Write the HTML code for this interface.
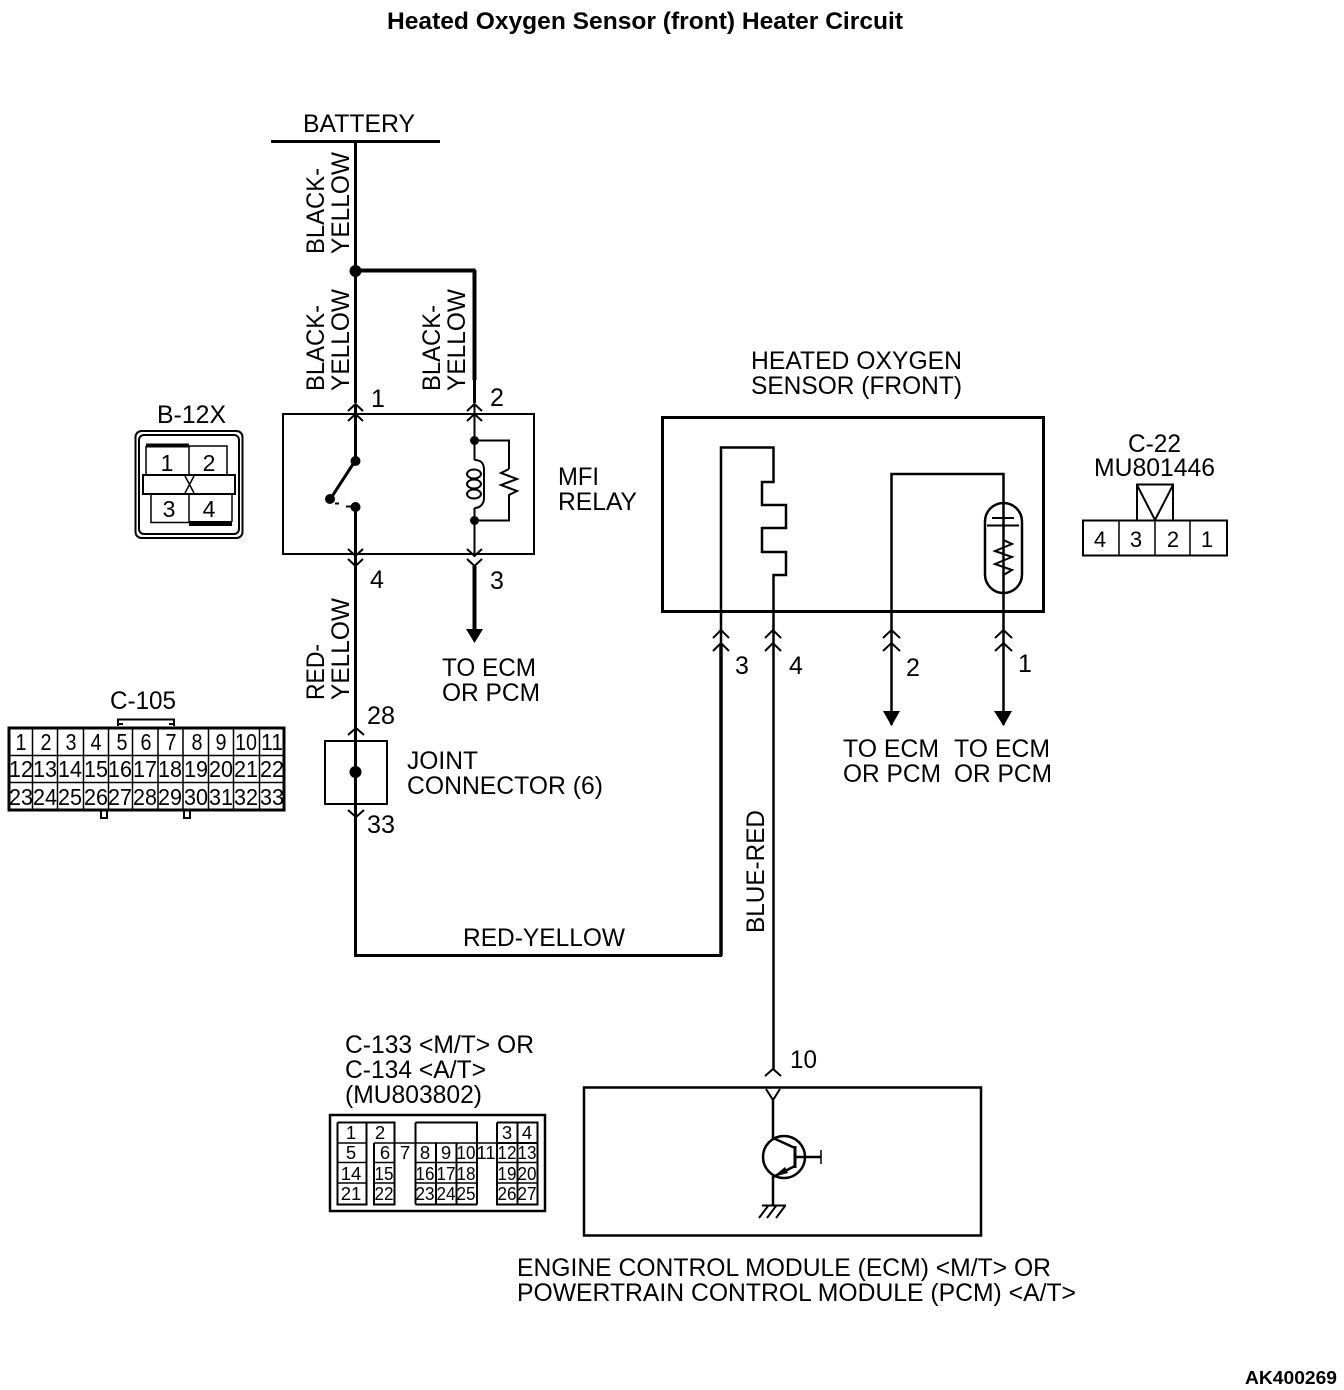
<!DOCTYPE html>
<html><head><meta charset="utf-8">
<style>
html,body{margin:0;padding:0;background:#fff}
svg{display:block}
text{font-family:"Liberation Sans",sans-serif;font-size:25px;fill:#000;stroke:none}
.b{font-weight:bold}
.s{font-size:22px;text-anchor:middle}
.c{font-size:23px;text-anchor:middle}
.d{font-size:18.500px;text-anchor:middle}
.w{stroke:#000;fill:none;stroke-width:3;stroke-linecap:butt;stroke-linejoin:miter}
.t{stroke:#000;fill:none;stroke-width:2}
.k{stroke:#000;fill:none;stroke-width:4}
</style></head>
<body>
<svg width="1344" height="1390" viewBox="0 0 1344 1390" xmlns="http://www.w3.org/2000/svg">
<text class="b" x="387" y="29" style="font-size:24px" textLength="516" lengthAdjust="spacingAndGlyphs">Heated Oxygen Sensor (front) Heater Circuit</text>

<!-- battery -->
<text x="303" y="132" textLength="112" lengthAdjust="spacingAndGlyphs">BATTERY</text>
<path class="w" d="M271 141.500H440"/>
<path class="w" d="M355.500 141V403"/>
<path class="k" d="M355 270.500H475.500M474.500 270V380"/>
<path class="w" d="M474.500 380V403"/>
<circle cx="355.500" cy="271" r="6"/>
<text transform="translate(324,254) rotate(-90)" textLength="86" lengthAdjust="spacingAndGlyphs">BLACK-</text>
<text transform="translate(349,254) rotate(-90)" textLength="102" lengthAdjust="spacingAndGlyphs">YELLOW</text>
<text transform="translate(324,391) rotate(-90)" textLength="86" lengthAdjust="spacingAndGlyphs">BLACK-</text>
<text transform="translate(349,391) rotate(-90)" textLength="102" lengthAdjust="spacingAndGlyphs">YELLOW</text>
<text transform="translate(440,391) rotate(-90)" textLength="86" lengthAdjust="spacingAndGlyphs">BLACK-</text>
<text transform="translate(465,391) rotate(-90)" textLength="102" lengthAdjust="spacingAndGlyphs">YELLOW</text>

<!-- MFI relay -->
<rect class="t" x="283" y="414" width="251" height="140"/>
<path class="t" d="M348 411L355.500 404L363 411M348 421L355.500 414L363 421M467 411L474.500 404L482 411M467 421L474.500 414L482 421"/>
<path class="t" d="M348 549L355.500 556L363 549M348 559L355.500 566L363 559M467 549L474.500 556L482 549M467 559L474.500 566L482 559"/>
<text x="371" y="407">1</text><text x="490" y="406">2</text>
<text x="370" y="588">4</text><text x="490" y="589">3</text>
<path class="w" d="M355.500 404V461M355.500 507V703"/>
<circle cx="355.500" cy="461" r="5"/><circle cx="355.500" cy="507" r="5"/><circle cx="330" cy="499" r="5"/>
<path class="w" d="M355 461L331 498"/>
<path class="t" d="M335 503.500H339M346 506.500H352"/>
<path class="t" d="M474.500 404V460M474.500 508V556"/>
<circle cx="474.500" cy="440.500" r="4.500"/><circle cx="474.500" cy="520.500" r="4.500"/>
<path class="t" d="M475 440.500H509V469M509 469L501 473L517 479L501 485L517 491L509 495V520.500H475"/>
<path class="t" d="M474.500 460C482 460 484 464 484 470V498C484 504 480 508 474.500 508"/>
<path class="t" d="M467 474a7 4.500 0 1 1 14 0a7 4.500 0 1 1 -14 0M467 484a7 4.500 0 1 1 14 0a7 4.500 0 1 1 -14 0M467 494a7 4.500 0 1 1 14 0a7 4.500 0 1 1 -14 0"/>
<path class="k" d="M474.500 566V632"/>
<path d="M466 629H483L474.500 643Z"/>
<text x="558" y="485" textLength="41" lengthAdjust="spacingAndGlyphs">MFI</text><text x="558" y="510" textLength="79" lengthAdjust="spacingAndGlyphs">RELAY</text>
<text x="442" y="676" textLength="94" lengthAdjust="spacingAndGlyphs">TO ECM</text><text x="442" y="701" textLength="98" lengthAdjust="spacingAndGlyphs">OR PCM</text>

<!-- B-12X -->
<text x="157" y="423" textLength="69" lengthAdjust="spacingAndGlyphs">B-12X</text>
<rect class="t" x="135.500" y="431" width="107" height="107" rx="6"/>
<rect class="t" x="139" y="435" width="100" height="99" rx="5"/>
<rect x="146" y="443.500" width="43" height="4"/>
<rect x="189" y="521" width="43" height="5"/>
<path class="t" style="stroke-width:1.500" d="M146 446V475M189 446H227V475M189 446V475M151 494V522.500H189M189 494V522M232 494V522"/>
<rect class="t" x="143" y="475" width="92" height="19" fill="#fff"/>
<path class="t" style="stroke-width:1.500" d="M185 476L194 493M194 476L185 493"/>
<text class="s" x="167" y="471" style="font-size:23px">1</text><text class="s" x="209" y="471" style="font-size:23px">2</text>
<text class="s" x="169" y="517" style="font-size:23px">3</text><text class="s" x="209" y="517" style="font-size:23px">4</text>

<!-- C-105 -->
<text x="110" y="709" textLength="66" lengthAdjust="spacingAndGlyphs">C-105</text>
<path class="t" d="M118 726V719.500H174V726M118 724H123M174 724H169"/>
<path class="t" d="M101 811V818H107V811M184 811V818H190V811"/>
<rect x="9" y="728" width="275" height="82" fill="#fff" stroke="#000" stroke-width="3"/>
<path stroke="#000" stroke-width="1.500" fill="none" d="M32.500 728V810M57.500 728V810M83.500 728V810M108.500 728V810M132.500 728V810M158 728V810M183 728V810M208.500 728V810M233.500 728V810M259.500 728V810M9 755.500H284M9 782.500H284"/>
<g>
<text class="c" x="21" y="750" textLength="11" lengthAdjust="spacingAndGlyphs">1</text><text class="c" x="46" y="750" textLength="11" lengthAdjust="spacingAndGlyphs">2</text><text class="c" x="71" y="750" textLength="11" lengthAdjust="spacingAndGlyphs">3</text><text class="c" x="96" y="750" textLength="11" lengthAdjust="spacingAndGlyphs">4</text><text class="c" x="122" y="750" textLength="11" lengthAdjust="spacingAndGlyphs">5</text><text class="c" x="146" y="750" textLength="11" lengthAdjust="spacingAndGlyphs">6</text><text class="c" x="171" y="750" textLength="11" lengthAdjust="spacingAndGlyphs">7</text><text class="c" x="197" y="750" textLength="11" lengthAdjust="spacingAndGlyphs">8</text><text class="c" x="221" y="750" textLength="11" lengthAdjust="spacingAndGlyphs">9</text><text class="c" x="246" y="750" textLength="22" lengthAdjust="spacingAndGlyphs">10</text><text class="c" x="272" y="750" textLength="22" lengthAdjust="spacingAndGlyphs">11</text>
<text class="c" x="21" y="777" textLength="24" lengthAdjust="spacingAndGlyphs">12</text><text class="c" x="45" y="777" textLength="24" lengthAdjust="spacingAndGlyphs">13</text><text class="c" x="70" y="777" textLength="24" lengthAdjust="spacingAndGlyphs">14</text><text class="c" x="96" y="777" textLength="24" lengthAdjust="spacingAndGlyphs">15</text><text class="c" x="120" y="777" textLength="24" lengthAdjust="spacingAndGlyphs">16</text><text class="c" x="145" y="777" textLength="24" lengthAdjust="spacingAndGlyphs">17</text><text class="c" x="170" y="777" textLength="24" lengthAdjust="spacingAndGlyphs">18</text><text class="c" x="196" y="777" textLength="24" lengthAdjust="spacingAndGlyphs">19</text><text class="c" x="221" y="777" textLength="24" lengthAdjust="spacingAndGlyphs">20</text><text class="c" x="246" y="777" textLength="24" lengthAdjust="spacingAndGlyphs">21</text><text class="c" x="272" y="777" textLength="24" lengthAdjust="spacingAndGlyphs">22</text>
<text class="c" x="21" y="805" textLength="24" lengthAdjust="spacingAndGlyphs">23</text><text class="c" x="45" y="805" textLength="24" lengthAdjust="spacingAndGlyphs">24</text><text class="c" x="70" y="805" textLength="24" lengthAdjust="spacingAndGlyphs">25</text><text class="c" x="96" y="805" textLength="24" lengthAdjust="spacingAndGlyphs">26</text><text class="c" x="120" y="805" textLength="24" lengthAdjust="spacingAndGlyphs">27</text><text class="c" x="145" y="805" textLength="24" lengthAdjust="spacingAndGlyphs">28</text><text class="c" x="170" y="805" textLength="24" lengthAdjust="spacingAndGlyphs">29</text><text class="c" x="196" y="805" textLength="24" lengthAdjust="spacingAndGlyphs">30</text><text class="c" x="221" y="805" textLength="24" lengthAdjust="spacingAndGlyphs">31</text><text class="c" x="246" y="805" textLength="24" lengthAdjust="spacingAndGlyphs">32</text><text class="c" x="272" y="805" textLength="24" lengthAdjust="spacingAndGlyphs">33</text>
</g>

<!-- joint connector -->
<text transform="translate(324,700) rotate(-90)" textLength="56" lengthAdjust="spacingAndGlyphs">RED-</text>
<text transform="translate(349,700) rotate(-90)" textLength="102" lengthAdjust="spacingAndGlyphs">YELLOW</text>
<text x="367" y="724" textLength="28" lengthAdjust="spacingAndGlyphs">28</text><text x="367" y="833" textLength="28" lengthAdjust="spacingAndGlyphs">33</text>
<rect class="t" x="325" y="741" width="62" height="63"/>
<path class="w" d="M355.500 703V955.500H722"/>
<path class="t" d="M348 735L356 728L364 735M348 810L356 817L364 810"/>
<circle cx="355.500" cy="772" r="6"/>
<text x="407" y="769" textLength="71" lengthAdjust="spacingAndGlyphs">JOINT</text>
<text x="407" y="794" textLength="196" lengthAdjust="spacingAndGlyphs">CONNECTOR (6)</text>
<text x="463" y="946" textLength="162" lengthAdjust="spacingAndGlyphs">RED-YELLOW</text>

<!-- sensor -->
<text x="751" y="369" textLength="211" lengthAdjust="spacingAndGlyphs">HEATED OXYGEN</text>
<text x="751" y="394" textLength="211" lengthAdjust="spacingAndGlyphs">SENSOR (FRONT)</text>
<rect class="t" style="stroke-width:3" x="662.500" y="417.500" width="381" height="194"/>
<path class="t" style="stroke-width:2.500" d="M721 648V447.500H773.500V482H762V505H786V528H762V552H786V575H773.500V1070"/>
<path class="k" style="stroke-width:3.500" d="M721 645V956"/>
<path class="t" style="stroke-width:2.500" d="M891.500 725V474H1003.500V725"/>
<rect x="1003" y="503" width="1" height="1" fill="#fff"/>
<rect class="t" style="stroke-width:2.500" x="985" y="503" width="37" height="90" rx="18.500" fill="#fff"/>
<path d="M1003.500 503V518M992 518H1014M987 525.500H1019" stroke="#000" stroke-width="2" fill="none"/>
<path class="t" d="M1003.500 526V540L1012 544L995 551L1012 557L995 564L1012 570L1003.500 575V593"/>
<path class="t" d="M713 638L721 630L729 638M713 651L721 643L729 651M765 638L773 630L781 638M765 651L773 643L781 651M883 638L891.500 630L900 638M883 651L891.500 643L900 651M995 638L1003.500 630L1012 638M995 651L1003.500 643L1012 651"/>
<path d="M883 711H900L891.500 726ZM994 711H1012L1003.500 726Z"/>
<text x="735" y="674">3</text><text x="789" y="674">4</text><text x="906" y="676">2</text><text x="1018" y="672">1</text>
<text x="843" y="757" textLength="96" lengthAdjust="spacingAndGlyphs">TO ECM</text><text x="843" y="782" textLength="98" lengthAdjust="spacingAndGlyphs">OR PCM</text>
<text x="954" y="757" textLength="96" lengthAdjust="spacingAndGlyphs">TO ECM</text><text x="954" y="782" textLength="98" lengthAdjust="spacingAndGlyphs">OR PCM</text>
<text transform="translate(764,933) rotate(-90)" textLength="123" lengthAdjust="spacingAndGlyphs">BLUE-RED</text>

<!-- C-22 -->
<text x="1128" y="452" textLength="53" lengthAdjust="spacingAndGlyphs">C-22</text>
<text x="1094" y="476" textLength="121" lengthAdjust="spacingAndGlyphs">MU801446</text>
<path class="t" d="M1137 520V484.500H1173V520M1137 485L1155 520L1173 485"/>
<rect class="t" x="1083" y="520.500" width="144" height="35"/>
<path class="t" style="stroke-width:1.500" d="M1119 521V555M1155 521V555M1190 521V555"/>
<text class="s" x="1100" y="547">4</text><text class="s" x="1136" y="547">3</text><text class="s" x="1173" y="547">2</text><text class="s" x="1207" y="547">1</text>

<!-- C-133 -->
<text x="345" y="1053" textLength="189" lengthAdjust="spacingAndGlyphs">C-133 &lt;M/T&gt; OR</text>
<text x="345" y="1078" textLength="141" lengthAdjust="spacingAndGlyphs">C-134 &lt;A/T&gt;</text>
<text x="345" y="1103" textLength="137" lengthAdjust="spacingAndGlyphs">(MU803802)</text>
<rect x="330" y="1115" width="215" height="96" fill="none" stroke="#000" stroke-width="2.500"/>
<path stroke="#000" stroke-width="2" fill="none" d="M337.500 1122.500H394.500V1143M366.500 1122.500V1143M337.500 1122.500V1204.500H366.500V1143M415.500 1122.500H477V1204.500M415.500 1122.500V1204.500M496.500 1143H537.500M497 1122.500H537.500V1204.500H497V1122.500M517.500 1122.500V1204.500M374 1143V1204.500H394.500V1143M436 1143V1204.500M456.500 1143V1204.500M415.500 1204.500H477"/>
<path stroke="#000" stroke-width="1.500" fill="none" d="M337.500 1143H366.500M337.500 1162.500H366.500M337.500 1183H366.500M374 1143H497M374 1162.500H394.500M374 1183H394.500M415.500 1162.500H477M415.500 1183H477M497 1162.500H537.500M497 1183H537.500M477 1143V1162.500"/>
<g>
<text class="d" x="351" y="1139">1</text><text class="d" x="380" y="1139">2</text><text class="d" x="507" y="1139">3</text><text class="d" x="527" y="1139">4</text>
<text class="d" x="351" y="1159">5</text><text class="d" x="385" y="1159">6</text><text class="d" x="405" y="1159">7</text><text class="d" x="425" y="1159">8</text><text class="d" x="446" y="1159">9</text><text class="d" x="466" y="1159" textLength="19" lengthAdjust="spacingAndGlyphs">10</text><text class="d" x="486" y="1159" textLength="19" lengthAdjust="spacingAndGlyphs">11</text><text class="d" x="507" y="1159" textLength="19" lengthAdjust="spacingAndGlyphs">12</text><text class="d" x="527" y="1159" textLength="19" lengthAdjust="spacingAndGlyphs">13</text>
<text class="d" x="351" y="1180">14</text><text class="d" x="384" y="1180" textLength="19" lengthAdjust="spacingAndGlyphs">15</text><text class="d" x="425" y="1180" textLength="19" lengthAdjust="spacingAndGlyphs">16</text><text class="d" x="446" y="1180" textLength="19" lengthAdjust="spacingAndGlyphs">17</text><text class="d" x="466" y="1180" textLength="19" lengthAdjust="spacingAndGlyphs">18</text><text class="d" x="507" y="1180" textLength="19" lengthAdjust="spacingAndGlyphs">19</text><text class="d" x="527" y="1180" textLength="19" lengthAdjust="spacingAndGlyphs">20</text>
<text class="d" x="351" y="1200">21</text><text class="d" x="384" y="1200" textLength="19" lengthAdjust="spacingAndGlyphs">22</text><text class="d" x="425" y="1200" textLength="19" lengthAdjust="spacingAndGlyphs">23</text><text class="d" x="446" y="1200" textLength="19" lengthAdjust="spacingAndGlyphs">24</text><text class="d" x="466" y="1200" textLength="19" lengthAdjust="spacingAndGlyphs">25</text><text class="d" x="507" y="1200" textLength="19" lengthAdjust="spacingAndGlyphs">26</text><text class="d" x="527" y="1200" textLength="19" lengthAdjust="spacingAndGlyphs">27</text>
</g>

<!-- ECM -->
<text x="790" y="1068" textLength="27" lengthAdjust="spacingAndGlyphs">10</text>
<path class="t" d="M765 1076L773 1069L781 1076"/>
<rect class="t" style="stroke-width:2.500" x="584" y="1087.500" width="397" height="148"/>
<path class="t" d="M766 1089L773 1100L780 1089"/>
<path class="t" style="stroke-width:2.500" d="M773 1100V1138L795 1148M795 1166L773 1177V1205"/>
<circle class="t" style="stroke-width:2.500" cx="784" cy="1157" r="21"/>
<path class="t" style="stroke-width:3" d="M795 1146V1168"/>
<path class="t" style="stroke-width:2.500" d="M795 1157H821"/>
<path class="t" style="stroke-width:1.500" d="M821 1150V1164"/>
<path d="M773 1177L785 1167L788 1173Z"/>
<path class="t" d="M762 1205.500H786M768 1206L759 1218M776 1206L767 1218M785 1206L776 1218"/>
<text x="517" y="1276" textLength="534" lengthAdjust="spacingAndGlyphs">ENGINE CONTROL MODULE (ECM) &lt;M/T&gt; OR</text>
<text x="517" y="1301" textLength="559" lengthAdjust="spacingAndGlyphs">POWERTRAIN CONTROL MODULE (PCM) &lt;A/T&gt;</text>

<text class="b" x="1245" y="1384" style="font-size:18px" textLength="92" lengthAdjust="spacingAndGlyphs">AK400269</text>
</svg>
</body></html>
